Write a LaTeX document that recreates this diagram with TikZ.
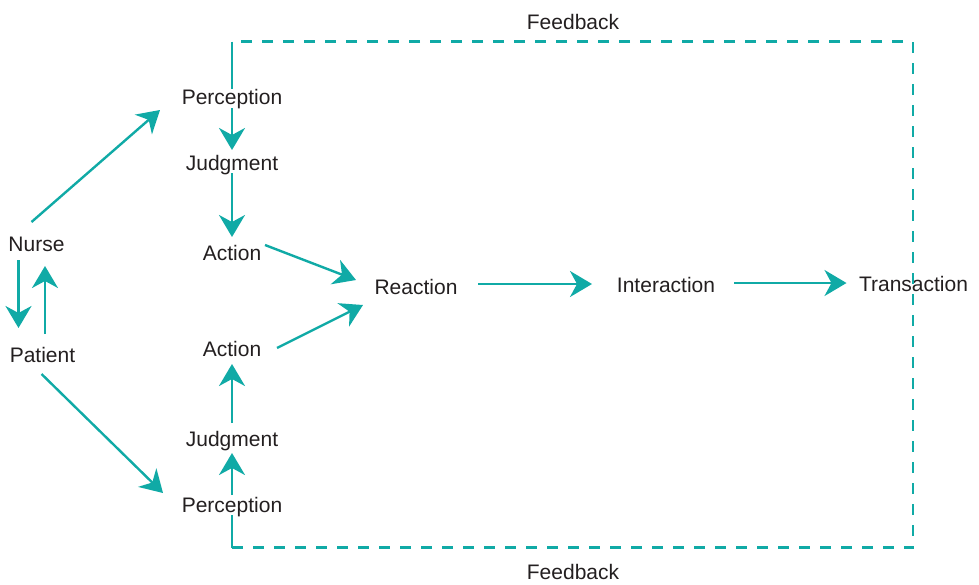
\documentclass[tikz,border=0pt]{standalone}
\usepackage{fontspec}
\setmainfont{Liberation Sans}
\usetikzlibrary{arrows.meta}
\definecolor{fbteal}{RGB}{16,170,166}
\definecolor{txtgray}{RGB}{35,31,32}
\tikzset{
  lbl/.style={anchor=base, inner sep=0pt, text=txtgray, font=\fontsize{10.5}{12}\selectfont},
  flow/.style={fbteal, line width=1.2pt, -{Stealth[length=11pt, width=13pt, inset=3.5pt]}},
  fbline/.style={fbteal, line width=1.3pt},
  fbdash/.style={fbline, dash pattern=on 5.5pt off 5pt}
}
\begin{document}
\begin{tikzpicture}[x=0.5pt, y=-0.5pt]
  \useasboundingbox (0,0) rectangle (979,584);

  % Nurse and patient
  \node[lbl] (nurse) at (36.5,251) {Nurse};
  \node[lbl] (patient) at (42.5,362) {Patient};

  % Upper chain
  \node[lbl] (perc1) at (232,104) {Perception};
  \node[lbl] (judg1) at (232,170) {Judgment};
  \node[lbl] (act1) at (232,260) {Action};

  % Lower chain
  \node[lbl] (act2) at (232,356) {Action};
  \node[lbl] (judg2) at (232,446) {Judgment};
  \node[lbl] (perc2) at (232,512) {Perception};

  % Main line
  \node[lbl] (reaction) at (416,294) {Reaction};
  \node[lbl] (interaction) at (666,292) {Interaction};
  \node[lbl] (transaction) at (913.5,291) {Transaction};

  % Feedback labels
  \node[lbl] (fbtop) at (573,29) {Feedback};
  \node[lbl] (fbbot) at (573,579) {Feedback};

  % Feedback loop corners
  \coordinate (fbTL) at (232,41.5);
  \coordinate (fbTR) at (913,41.5);
  \coordinate (fbBR) at (913,547.5);
  \coordinate (fbBL) at (232,547.5);

  % Feedback loop
  \draw[fbline] ([shift={(0,3)}]perc2.base) -- (fbBL);
  \draw[fbdash] (fbBL) -- (fbBR) -- (fbTR) -- (fbTL);
  \draw[fbline] (fbTL) -- ([shift={(0,-15)}]perc1.base);

  % Nurse <-> patient
  \draw[flow] ([shift={(-18,9)}]nurse.base) -- ([shift={(-24,-34)}]patient.base);
  \draw[flow] ([shift={(2.5,-28)}]patient.base) -- ([shift={(8.5,15)}]nurse.base);

  % To perception
  \draw[flow] ([shift={(-5,-29)}]nurse.base) -- ([shift={(-72,6)}]perc1.base);
  \draw[flow] ([shift={(-1,12)}]patient.base) -- ([shift={(-69,-19)}]perc2.base);

  % Upper chain arrows
  \draw[flow] ([shift={(0,4)}]perc1.base) -- ([shift={(0,-20)}]judg1.base);
  \draw[flow] ([shift={(0,3)}]judg1.base) -- ([shift={(0,-23)}]act1.base);

  % Lower chain arrows
  \draw[flow] ([shift={(0,-17)}]perc2.base) -- ([shift={(0,7)}]judg2.base);
  \draw[flow] ([shift={(0,-23)}]judg2.base) -- ([shift={(0,8)}]act2.base);

  % Into reaction and onwards
  \draw[flow] ([shift={(33,-15)}]act1.base) -- ([shift={(-60,-14)}]reaction.base);
  \draw[flow] ([shift={(45,-8)}]act2.base) -- ([shift={(-53,11)}]reaction.base);
  \draw[flow] ([shift={(62,-10)}]reaction.base) -- ([shift={(-74,-8)}]interaction.base);
  \draw[flow] ([shift={(68,-9)}]interaction.base) -- ([shift={(-67,-8)}]transaction.base);
\end{tikzpicture}
\end{document}
